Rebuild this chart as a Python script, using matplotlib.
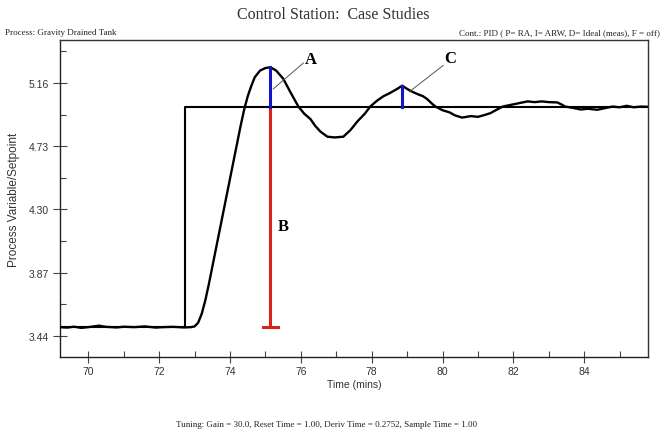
import matplotlib
matplotlib.use("Agg")
import matplotlib.pyplot as plt
from matplotlib.ticker import MultipleLocator, FixedLocator

# Process variable (time in minutes, value)
pv_time = [69.2, 69.4, 69.6, 69.8, 70.0, 70.3, 70.5, 70.8, 71.0, 71.3, 71.6, 71.9,
           72.1, 72.4, 72.7, 72.9, 73.0, 73.1, 73.2, 73.3, 73.4, 73.5, 73.6, 73.7,
           73.8, 73.9, 74.0, 74.1, 74.2, 74.3, 74.4, 74.5, 74.6, 74.7, 74.85, 75.0,
           75.14, 75.3, 75.5, 75.7, 75.93,
           76.1, 76.27, 76.4, 76.55, 76.75, 76.95, 77.2, 77.4, 77.6, 77.8, 77.96, 78.15,
           78.33, 78.5, 78.72, 78.86, 79.0, 79.15, 79.29, 79.45, 79.57, 79.7, 79.8, 80.0,
           80.2, 80.35, 80.55, 80.8, 81.0, 81.15, 81.35, 81.54, 81.7, 81.9, 82.1, 82.4,
           82.6, 82.8, 83.0, 83.24, 83.35, 83.46, 83.7, 83.9, 84.1, 84.37, 84.6, 84.8,
           85.0, 85.2, 85.4, 85.6, 85.8]
pv_value = [3.500, 3.497, 3.503, 3.495, 3.500, 3.510, 3.502, 3.498, 3.503, 3.500, 3.505, 3.497,
            3.500, 3.502, 3.498, 3.500, 3.505, 3.53, 3.59, 3.68, 3.79, 3.91, 4.03, 4.15,
            4.27, 4.39, 4.51, 4.63, 4.75, 4.87, 4.98, 5.07, 5.14, 5.20, 5.245, 5.262,
            5.267, 5.245, 5.19, 5.10, 5.00,
            4.95, 4.915, 4.87, 4.83, 4.795, 4.79, 4.795, 4.84, 4.90, 4.95, 5.00, 5.04,
            5.07, 5.09, 5.12, 5.142, 5.12, 5.10, 5.085, 5.07, 5.05, 5.02, 5.00, 4.975,
            4.96, 4.94, 4.925, 4.935, 4.93, 4.94, 4.955, 4.98, 5.00, 5.01, 5.02, 5.035,
            5.03, 5.035, 5.03, 5.028, 5.015, 5.00, 4.99, 4.98, 4.985, 4.978, 4.99, 5.00,
            4.995, 5.005, 4.995, 5.00, 4.998]

# Setpoint step
sp_time = [69.2, 72.72, 85.8]
sp_value = [3.50, 5.00, 5.00]

# Annotation markers
peak_a_time, peak_a_value = 75.14, 5.267
peak_c_time, peak_c_value = 78.86, 5.142
sp_initial, sp_final = 3.50, 5.00

y_ticks = [3.44, 3.87, 4.30, 4.73, 5.16]
x_ticks = [70, 72, 74, 76, 78, 80, 82, 84]

serif = "Liberation Serif"
sans = "Liberation Sans"
grey = "#444444"

fig = plt.figure(figsize=(6.67, 4.35), dpi=100)
ax = fig.add_axes([60 / 667, 77 / 435, 588 / 667, 317 / 435])

ax.plot(sp_time, sp_value, drawstyle="steps-post", color="black", lw=1.5, zorder=2)
ax.plot(pv_time, pv_value, color="black", lw=1.7, zorder=3)

# B: setpoint change (red, with bottom cap)
ax.plot([peak_a_time, peak_a_time], [sp_initial, sp_final], color="#dd2020", lw=2.2, zorder=4)
ax.plot([peak_a_time - 0.22, peak_a_time + 0.22], [sp_initial, sp_initial], color="#dd2020", lw=2.2, zorder=4)
# A and C: overshoot peaks (blue)
ax.plot([peak_a_time, peak_a_time], [sp_final, peak_a_value], color="#1414c8", lw=2.2, zorder=4)
ax.plot([peak_c_time, peak_c_time], [sp_final, peak_c_value], color="#1414c8", lw=2.2, zorder=4)

# leader lines and letters
ax.plot([76.07, 75.22], [5.296, 5.12], color="#555555", lw=0.7, zorder=5)
ax.plot([80.02, 79.06], [5.28, 5.10], color="#555555", lw=0.7, zorder=5)
ax.text(76.27, 5.323, "A", family=serif, fontsize=12, fontweight="bold", ha="center", va="center")
ax.text(80.22, 5.33, "C", family=serif, fontsize=12, fontweight="bold", ha="center", va="center")
ax.text(75.5, 4.187, "B", family=serif, fontsize=12, fontweight="bold", ha="center", va="center")

ax.set_xlim(69.2, 85.8)
ax.set_ylim(3.297, 5.4525)

ax.xaxis.set_major_locator(FixedLocator(x_ticks))
ax.xaxis.set_minor_locator(MultipleLocator(1))
ax.yaxis.set_major_locator(FixedLocator(y_ticks))
ax.yaxis.set_minor_locator(FixedLocator([3.655, 4.085, 4.515, 4.945, 5.375]))
ax.set_xticklabels([str(t) for t in x_ticks])
ax.set_yticklabels(["%.2f" % t for t in y_ticks])

ax.tick_params(axis="x", which="major", direction="inout", length=9, width=0.8, color=grey,
               labelsize=7.5, labelcolor="#333333", pad=2)
ax.tick_params(axis="x", which="minor", direction="in", length=4, width=0.8, color=grey)
ax.tick_params(axis="y", which="major", direction="inout", length=10, width=0.8, color=grey,
               labelsize=7.5, labelcolor="#333333", pad=3)
ax.tick_params(axis="y", which="minor", direction="in", length=4, width=0.8, color=grey)
for lab in ax.get_xticklabels() + ax.get_yticklabels():
    lab.set_family(sans)

for side in ["left", "bottom"]:
    ax.spines[side].set_color("#222222")
    ax.spines[side].set_linewidth(1.0)
for side in ["top", "right"]:
    ax.spines[side].set_color("#333333")
    ax.spines[side].set_linewidth(1.0)

ax.set_xlabel("Time (mins)", family=sans, fontsize=7.5, color="#333333", labelpad=2)
ax.set_ylabel("Process Variable/Setpoint", family=sans, fontsize=8.5, color="#333333", labelpad=6)

fig.text(333 / 667, 1 - 15 / 435, "Control Station:  Case Studies", family=serif, fontsize=11.5,
         color="#333333", ha="center", va="center")
fig.text(5 / 667, 1 - 33 / 435, "Process: Gravity Drained Tank", family=serif, fontsize=6.5,
         color="#222222", ha="left", va="center")
fig.text(660 / 667, 1 - 33 / 435, "Cont.: PID ( P= RA, I= ARW, D= Ideal (meas), F = off)", family=serif,
         fontsize=6.5, color="#222222", ha="right", va="center")
fig.text(327 / 667, 1 - 425 / 435,
         "Tuning: Gain = 30.0, Reset Time = 1.00, Deriv Time = 0.2752, Sample Time = 1.00",
         family=serif, fontsize=6.5, color="#222222", ha="center", va="center")

fig.savefig("out.png", dpi=100)
